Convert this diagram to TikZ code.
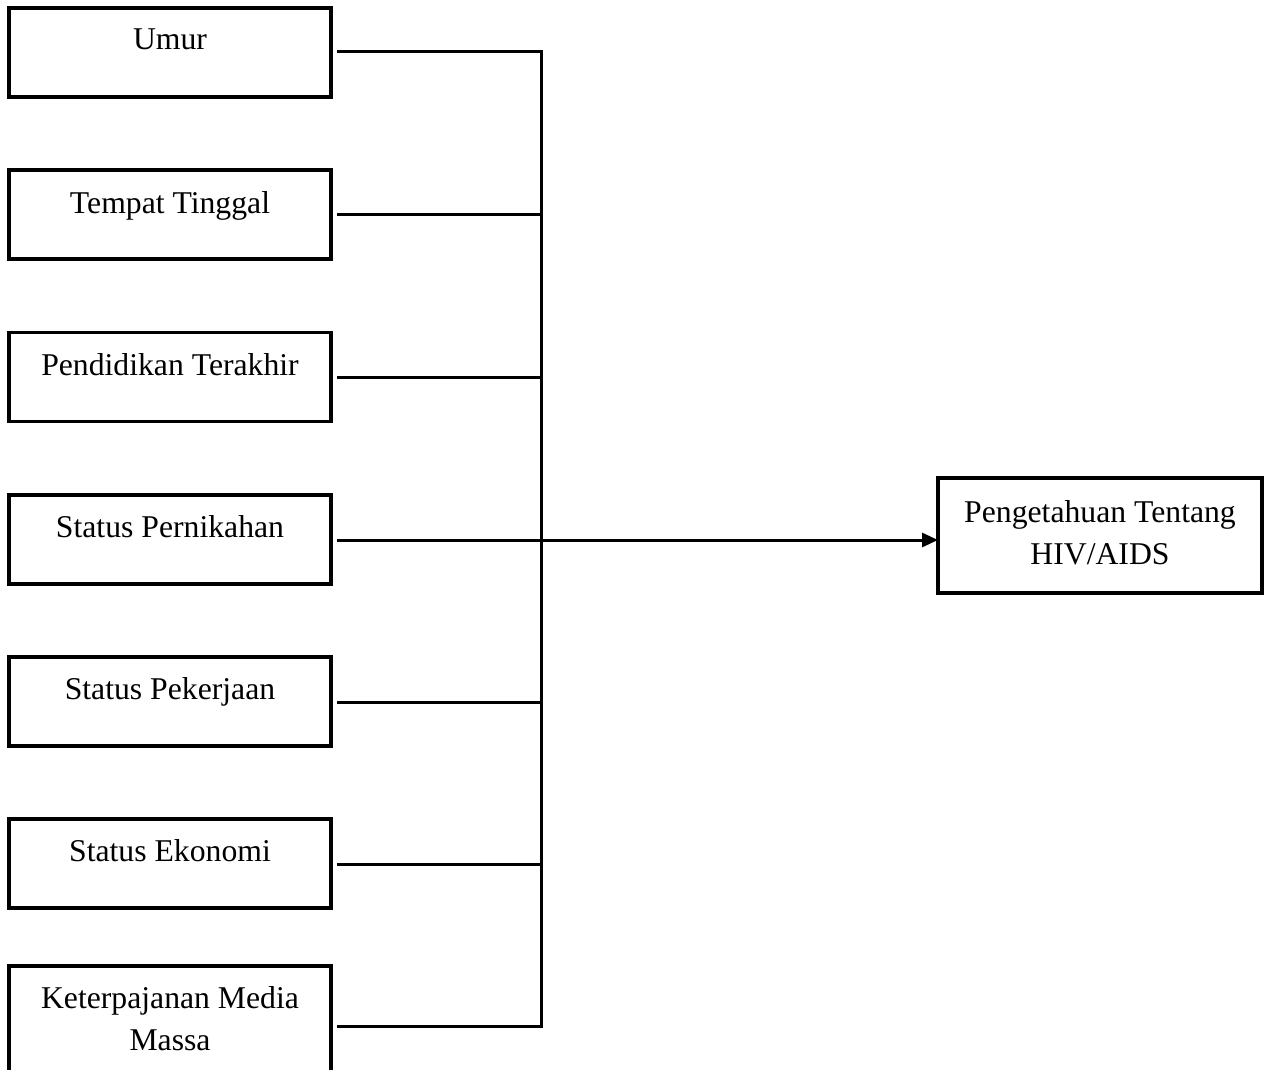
\documentclass[tikz,border=0pt]{standalone}
\usepackage{fontspec}
\setmainfont{Liberation Serif}
\usetikzlibrary{arrows.meta}
\begin{document}
\begin{tikzpicture}[x=1pt,y=-1pt,
  box/.style={draw,line width=3.5pt,minimum width=322pt,minimum height=89pt,inner sep=0pt,outer sep=0pt},
  tallbox/.style={box,minimum height=120pt},
  rbox/.style={draw,line width=3.5pt,minimum width=324pt,minimum height=115pt,inner sep=0pt,outer sep=0pt},
  lbl/.style={anchor=base,align=center,inner sep=0pt,font=\fontsize{31.7}{42}\selectfont},
  conn/.style={line width=3pt,line join=miter},
  arr/.style={conn,-{Triangle[length=16pt,width=14pt]}}]
\clip (0,0) rectangle (1272,1070);
\fill[white] (0,0) rectangle (1272,1070);
% left boxes
\node[box] (b1) at (170,52.5) {};
\node[box] (b2) at (170,214.7) {};
\node[box] (b3) at (170,376.9) {};
\node[box] (b4) at (170,539.5) {};
\node[box] (b5) at (170,701.5) {};
\node[box] (b6) at (170,863.5) {};
\node[tallbox] (b7) at (170,1026) {};
% labels
\node[lbl] (t1) at (170,50) {Umur};
\node[lbl] (t2) at (170,213) {Tempat Tinggal};
\node[lbl] (t3) at (170,375) {Pendidikan Terakhir};
\node[lbl] (t4) at (170,537) {Status Pernikahan};
\node[lbl] (t5) at (170,699) {Status Pekerjaan};
\node[lbl] (t6) at (170,861) {Status Ekonomi};
\node[lbl] (t7) at (170,1050) {Keterpajanan Media\\Massa};
% right box
\node[rbox] (r) at (1100,535.5) {};
\node[lbl] (tr) at (1100,564) {Pengetahuan Tentang\\HIV/AIDS};
% junctions
\coordinate (j1) at (541,52);
\coordinate (j2) at (541,214);
\coordinate (j3) at (541,377);
\coordinate (j4) at (541,540);
\coordinate (j5) at (541,702);
\coordinate (j6) at (541,864);
\coordinate (j7) at (541,1026);
% connectors
\draw[conn] ([xshift=6pt]b1.east |- j1) -- (j1) -- (j7) -- ([xshift=6pt]b7.east |- j7);
\draw[conn] ([xshift=6pt]b2.east |- j2) -- (j2);
\draw[conn] ([xshift=6pt]b3.east |- j3) -- (j3);
\draw[conn] ([xshift=6pt]b4.east |- j4) -- (j4);
\draw[conn] ([xshift=6pt]b5.east |- j5) -- (j5);
\draw[conn] ([xshift=6pt]b6.east |- j6) -- (j6);
\draw[arr] (j4) -- (j4 -| r.west);
\end{tikzpicture}
\end{document}
